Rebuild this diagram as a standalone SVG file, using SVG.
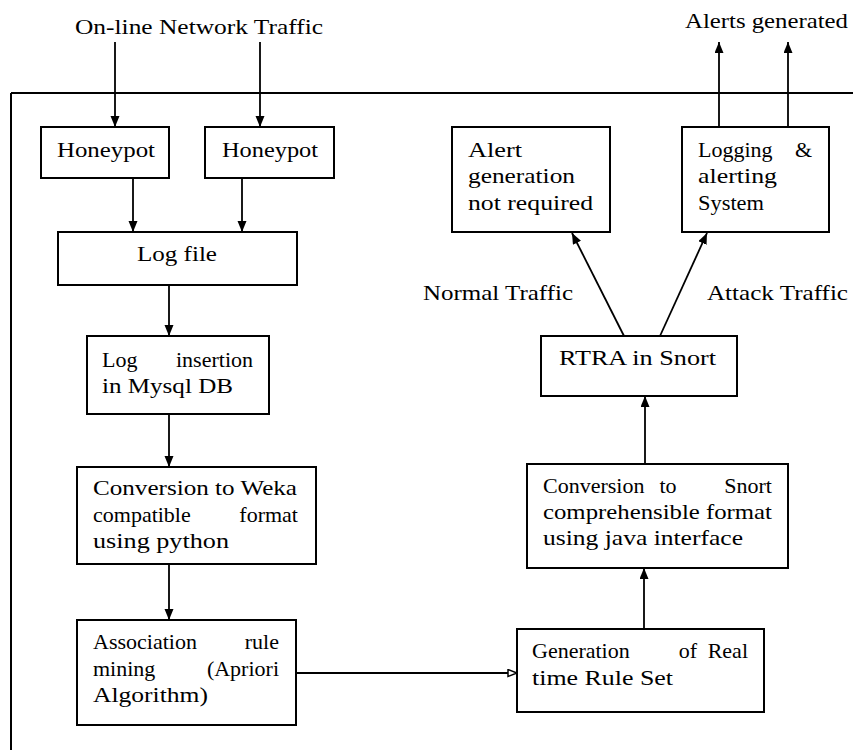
<svg xmlns="http://www.w3.org/2000/svg" width="853" height="750" viewBox="0 0 853 750">
<style>
.box{fill:#fff;stroke:#000;stroke-width:2}
.e{text-anchor:end}
.m{text-anchor:middle}
.ln{stroke:#000;stroke-width:2;fill:none}
.c{stroke:#000;stroke-width:1.8;fill:none;marker-end:url(#ah)}
</style>
<defs>
<marker id="ah" markerUnits="userSpaceOnUse" markerWidth="12" markerHeight="10" refX="11" refY="4.5" orient="auto"><path d="M0,0 L11,4.5 L0,9 z" fill="#000"/></marker>
<marker id="oh" markerUnits="userSpaceOnUse" markerWidth="12" markerHeight="10" refX="10" refY="4.5" orient="auto"><path d="M1,1 L10,4.5 L1,8 z" fill="#fff" stroke="#000" stroke-width="1.5"/></marker>
</defs>
<rect width="853" height="750" fill="#fff"/>
<g id="frame"><path class="ln" d="M11,93 H853 M11,93 V750"/></g>
<g id="connectors">
<line class="c" x1="115" y1="42" x2="115" y2="127"/>
<line class="c" x1="260" y1="42" x2="260" y2="127"/>
<line class="c" x1="133" y1="178" x2="133" y2="232"/>
<line class="c" x1="242" y1="178" x2="242" y2="232"/>
<line class="c" x1="169" y1="285" x2="169" y2="336"/>
<line class="c" x1="169" y1="414" x2="169" y2="467"/>
<line class="c" x1="169" y1="564" x2="169" y2="620"/>
<line class="ln" x1="296" y1="673" x2="517" y2="673" stroke-width="1.8" marker-end="url(#oh)"/>
<line class="c" x1="644" y1="629" x2="644" y2="568"/>
<line class="c" x1="645" y1="464" x2="645" y2="396"/>
<line class="c" x1="624" y1="336" x2="572" y2="233"/>
<line class="c" x1="660" y1="336" x2="707" y2="233"/>
<line class="c" x1="719" y1="128" x2="719" y2="42"/>
<line class="c" x1="788" y1="128" x2="788" y2="42"/>
</g>
<g font-family="Liberation Serif, DejaVu Serif, serif" font-size="22" fill="#000">
<g id="labels">
<text x="75" y="34" textLength="248" lengthAdjust="spacingAndGlyphs">On-line Network Traffic</text>
<text x="685" y="28" textLength="163" lengthAdjust="spacingAndGlyphs">Alerts generated</text>
<text x="423" y="300" textLength="150" lengthAdjust="spacingAndGlyphs">Normal Traffic</text>
<text x="707" y="300" textLength="141" lengthAdjust="spacingAndGlyphs">Attack Traffic</text>
</g>
<g id="honeypot1"><rect class="box" x="41" y="127" width="128" height="51"/><text x="57" y="157" textLength="98" lengthAdjust="spacingAndGlyphs">Honeypot</text></g>
<g id="honeypot2"><rect class="box" x="205" y="127" width="129" height="51"/><text x="222" y="157" textLength="96" lengthAdjust="spacingAndGlyphs">Honeypot</text></g>
<g id="logfile"><rect class="box" x="58" y="232" width="239" height="53"/><text x="137" y="261" textLength="80" lengthAdjust="spacingAndGlyphs">Log file</text></g>
<g id="loginsert"><rect class="box" x="87" y="336" width="182" height="78"/>
<text x="102" y="367">Log</text><text class="e" x="253" y="367">insertion</text>
<text x="102" y="393" textLength="131" lengthAdjust="spacingAndGlyphs">in Mysql DB</text></g>
<g id="weka"><rect class="box" x="77" y="467" width="239" height="97"/>
<text x="93" y="495" textLength="204" lengthAdjust="spacingAndGlyphs">Conversion to Weka</text>
<text x="93" y="522">compatible</text><text class="e" x="298" y="522">format</text>
<text x="93" y="548" textLength="136" lengthAdjust="spacingAndGlyphs">using python</text></g>
<g id="association"><rect class="box" x="77" y="620" width="219" height="105"/>
<text x="93" y="649">Association</text><text class="e" x="279" y="649">rule</text>
<text x="93" y="676">mining</text><text class="e" x="279" y="676">(Apriori</text>
<text x="93" y="702" textLength="115" lengthAdjust="spacingAndGlyphs">Algorithm)</text></g>
<g id="alertnotreq"><rect class="box" x="452" y="127" width="158" height="105"/>
<text x="468" y="157" textLength="54" lengthAdjust="spacingAndGlyphs">Alert</text>
<text x="468" y="183" textLength="107" lengthAdjust="spacingAndGlyphs">generation</text>
<text x="468" y="210" textLength="125" lengthAdjust="spacingAndGlyphs">not required</text></g>
<g id="logging"><rect class="box" x="682" y="127" width="147" height="105"/>
<text x="698" y="157">Logging</text><text class="e" x="812" y="157">&amp;</text>
<text x="698" y="183" textLength="79" lengthAdjust="spacingAndGlyphs">alerting</text>
<text x="698" y="210" textLength="66" lengthAdjust="spacingAndGlyphs">System</text></g>
<g id="rtra"><rect class="box" x="541" y="336" width="196" height="60"/><text x="559" y="365" textLength="157" lengthAdjust="spacingAndGlyphs">RTRA in Snort</text></g>
<g id="snortconv"><rect class="box" x="527" y="464" width="261" height="104"/>
<text x="543" y="493">Conversion</text><text class="m" x="668" y="493">to</text><text class="e" x="772" y="493">Snort</text>
<text x="543" y="519" textLength="229" lengthAdjust="spacingAndGlyphs">comprehensible format</text>
<text x="543" y="545" textLength="200" lengthAdjust="spacingAndGlyphs">using java interface</text></g>
<g id="generation"><rect class="box" x="517" y="629" width="247" height="83"/>
<text x="532" y="658">Generation</text><text class="m" x="688" y="658">of</text><text class="e" x="748" y="658">Real</text>
<text x="532" y="685" textLength="141" lengthAdjust="spacingAndGlyphs">time Rule Set</text></g>
</g>
</svg>
